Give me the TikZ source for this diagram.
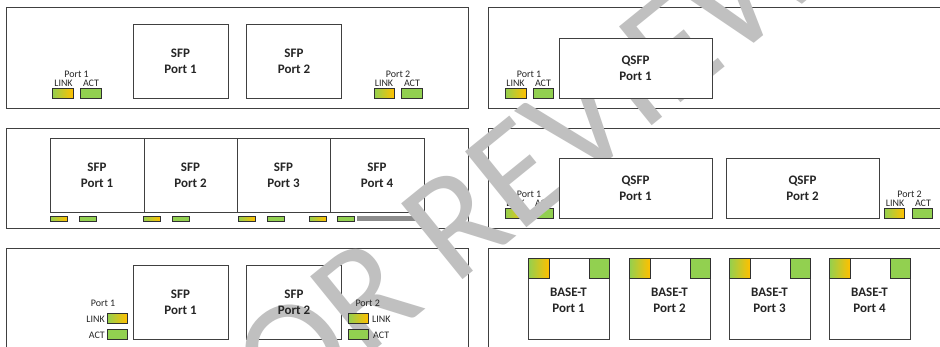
\documentclass[tikz,border=0pt]{standalone}
\usepackage{fontspec}
\setmainfont{Carlito}
\definecolor{edge}{HTML}{404040}
\definecolor{leddraw}{HTML}{303030}
\definecolor{ledgreen}{HTML}{92D050}
\definecolor{ledorange}{HTML}{FFC000}
\definecolor{barg}{HTML}{8C8C8C}
\definecolor{wmgray}{HTML}{C0C0C0}
\definecolor{txt}{HTML}{262626}
\begin{document}
\begin{tikzpicture}[x=1pt,y=-1pt,
  panel/.style={draw=edge, line width=1pt, inner sep=0pt},
  portbox/.style={draw=edge, line width=1pt, fill=white, inner sep=0pt,
    font=\fontsize{13}{16}\selectfont\bfseries, align=center, text=txt},
  lbl/.style={font=\fontsize{13}{16}\selectfont\bfseries, align=center, inner sep=0pt, text=txt},
  small/.style={font=\fontsize{10}{12}\selectfont, inner sep=0pt, text=txt},
  ledlink/.style={draw=leddraw, line width=0.8pt, left color=ledgreen, right color=ledorange, inner sep=0pt},
  ledact/.style={draw=leddraw, line width=0.8pt, fill=ledgreen, inner sep=0pt},
  wm/.style={text=wmgray, font=\fontsize{152}{152}\selectfont, inner sep=0pt, rotate=39}
]
\useasboundingbox (0,0) rectangle (940,346);
\fill[white] (0,0) rectangle (940,346);

% ---------- panel 1 (top left) ----------
\node[panel, minimum width=462, minimum height=101] (p1) at (237,57.5) {};
\node[portbox, minimum width=95, minimum height=74] (a1) at (180.5,61) {SFP\\Port 1};
\node[portbox, minimum width=94.5, minimum height=74] (a2) at (294,61) {SFP\\Port 2};
\node[ledlink, minimum width=21, minimum height=10] (a1l) at (62.5,93) {};
\node[ledact, minimum width=21, minimum height=10] (a1a) at (90.5,93) {};
\node[ledlink, minimum width=20, minimum height=10] (a2l) at (384,93) {};
\node[ledact, minimum width=21, minimum height=10] (a2a) at (411.5,93) {};
\node[small, anchor=base] (a1t) at (76.5,77) {Port 1};
\node[small, anchor=base] (a1lt) at (63.5,86.5) {LINK};
\node[small, anchor=base] (a1at) at (91,86.5) {ACT};
\node[small, anchor=base] (a2t) at (398,77) {Port 2};
\node[small, anchor=base] (a2lt) at (384,86.5) {LINK};
\node[small, anchor=base] (a2at) at (412,86.5) {ACT};

% ---------- panel 3 (middle left) ----------
\node[panel, minimum width=462, minimum height=100] (p3) at (237,178) {};
\node[portbox, minimum width=94, minimum height=74] (c1) at (97,175) {SFP\\Port 1};
\node[portbox, minimum width=93, minimum height=74] (c2) at (190.5,175) {SFP\\Port 2};
\node[portbox, minimum width=93, minimum height=74] (c3) at (283.5,175) {SFP\\Port 3};
\node[portbox, minimum width=94, minimum height=74] (c4) at (377,175) {SFP\\Port 4};
\foreach \n/\lx/\ax in {1/58.5/87.5, 2/151.5/180.5, 3/246.5/275.5, 4/317.5/345.5}{
  \node[ledlink, minimum width=17, minimum height=5] (c\n l) at (\lx,218.5) {};
  \node[ledact, minimum width=17, minimum height=5] (c\n a) at (\ax,218.5) {};
}
\node[fill=barg, inner sep=0pt, minimum width=71, minimum height=5] (cbar) at (392.5,218.5) {};

% ---------- panel 5 (bottom left) ----------
\node[panel, minimum width=462, minimum height=104] (p5) at (237,300) {};
\node[portbox, fill=none, minimum width=95, minimum height=74] (e1) at (180.5,302) {SFP\\Port 1};
\node[portbox, fill=none, minimum width=94.5, minimum height=74] (e2) at (294,302) {};
\node[ledlink, minimum width=20, minimum height=10] (e1l) at (117,318) {};
\node[ledact, minimum width=20, minimum height=10] (e1a) at (117,334) {};
\node[small, anchor=base] (e1t) at (103,306) {Port 1};
\node[small, anchor=base east] (e1lt) at (105,322) {LINK};
\node[small, anchor=base east] (e1at) at (105,338.5) {ACT};

% ---------- panel 4 (middle right) ----------
\node[panel, minimum width=457, minimum height=100] (p4) at (716.5,178) {};
\node[ledlink, minimum width=21, minimum height=10] (d1l) at (515.5,213) {};
\node[ledact, minimum width=20, minimum height=10] (d1a) at (543,213) {};
\node[ledlink, minimum width=20, minimum height=10] (d2l) at (894,213) {};
\node[ledact, minimum width=20, minimum height=10] (d2a) at (922,213) {};
\node[small, anchor=base] (d1t) at (529,197) {Port 1};
\node[small, anchor=base] (d1lt) at (515.5,206.5) {LINK};
\node[small, anchor=base] (d1at) at (543,206.5) {ACT};
\node[small, anchor=base] (d2t) at (909.5,197) {Port 2};
\node[small, anchor=base] (d2lt) at (895,206.5) {LINK};
\node[small, anchor=base] (d2at) at (923,206.5) {ACT};

% ---------- panel 6 (bottom right) ----------
\node[panel, minimum width=457, minimum height=104] (p6) at (716.5,300) {};
\foreach \n/\L in {1/528, 2/629, 3/729, 4/829}{
  \node[portbox, minimum width=81, minimum height=81] (f\n) at (\L+40.5,298.5) {};
  \node[ledlink, minimum width=21, minimum height=20] (f\n l) at (\L+10.5,268) {};
  \node[ledact, minimum width=20, minimum height=20] (f\n a) at (\L+71,268) {};
  \node[lbl] (f\n t) at (\L+40.5,300.3) {BASE-T\\Port \n};
}

% ---------- panel 2 (top right) ----------
\node[panel, minimum width=457, minimum height=101] (p2) at (716.5,57.5) {};
\node[ledlink, minimum width=21, minimum height=10] (b1l) at (515.5,93) {};
\node[ledact, minimum width=20, minimum height=10] (b1a) at (543,93) {};
\node[small, anchor=base] (b1t) at (529,77) {Port 1};
\node[small, anchor=base] (b1lt) at (515.5,86.5) {LINK};
\node[small, anchor=base] (b1at) at (543,86.5) {ACT};

% ---------- watermark ----------
\node[wm] (wmk) at (503,184) {FOR REVIEW};

% texts and boxes lying above the watermark
\node[lbl] (e2x) at (294,302) {SFP\\Port 2};
\node[ledlink, minimum width=20, minimum height=10] (e2l) at (358,318) {};
\node[ledact, minimum width=20, minimum height=10] (e2a) at (358,334) {};
\node[small, anchor=base] (e2t) at (367.7,306) {Port 2};
\node[small, anchor=base west] (e2lt) at (372,322) {LINK};
\node[small, anchor=base west] (e2at) at (373,338.5) {ACT};
\node[portbox, minimum width=153, minimum height=60] (b1) at (635.5,68) {QSFP\\Port 1};
\node[portbox, minimum width=153, minimum height=60] (d1) at (635.5,188) {QSFP\\Port 1};
\node[portbox, minimum width=153, minimum height=60] (d2) at (802.5,188) {QSFP\\Port 2};
\end{tikzpicture}
\end{document}
